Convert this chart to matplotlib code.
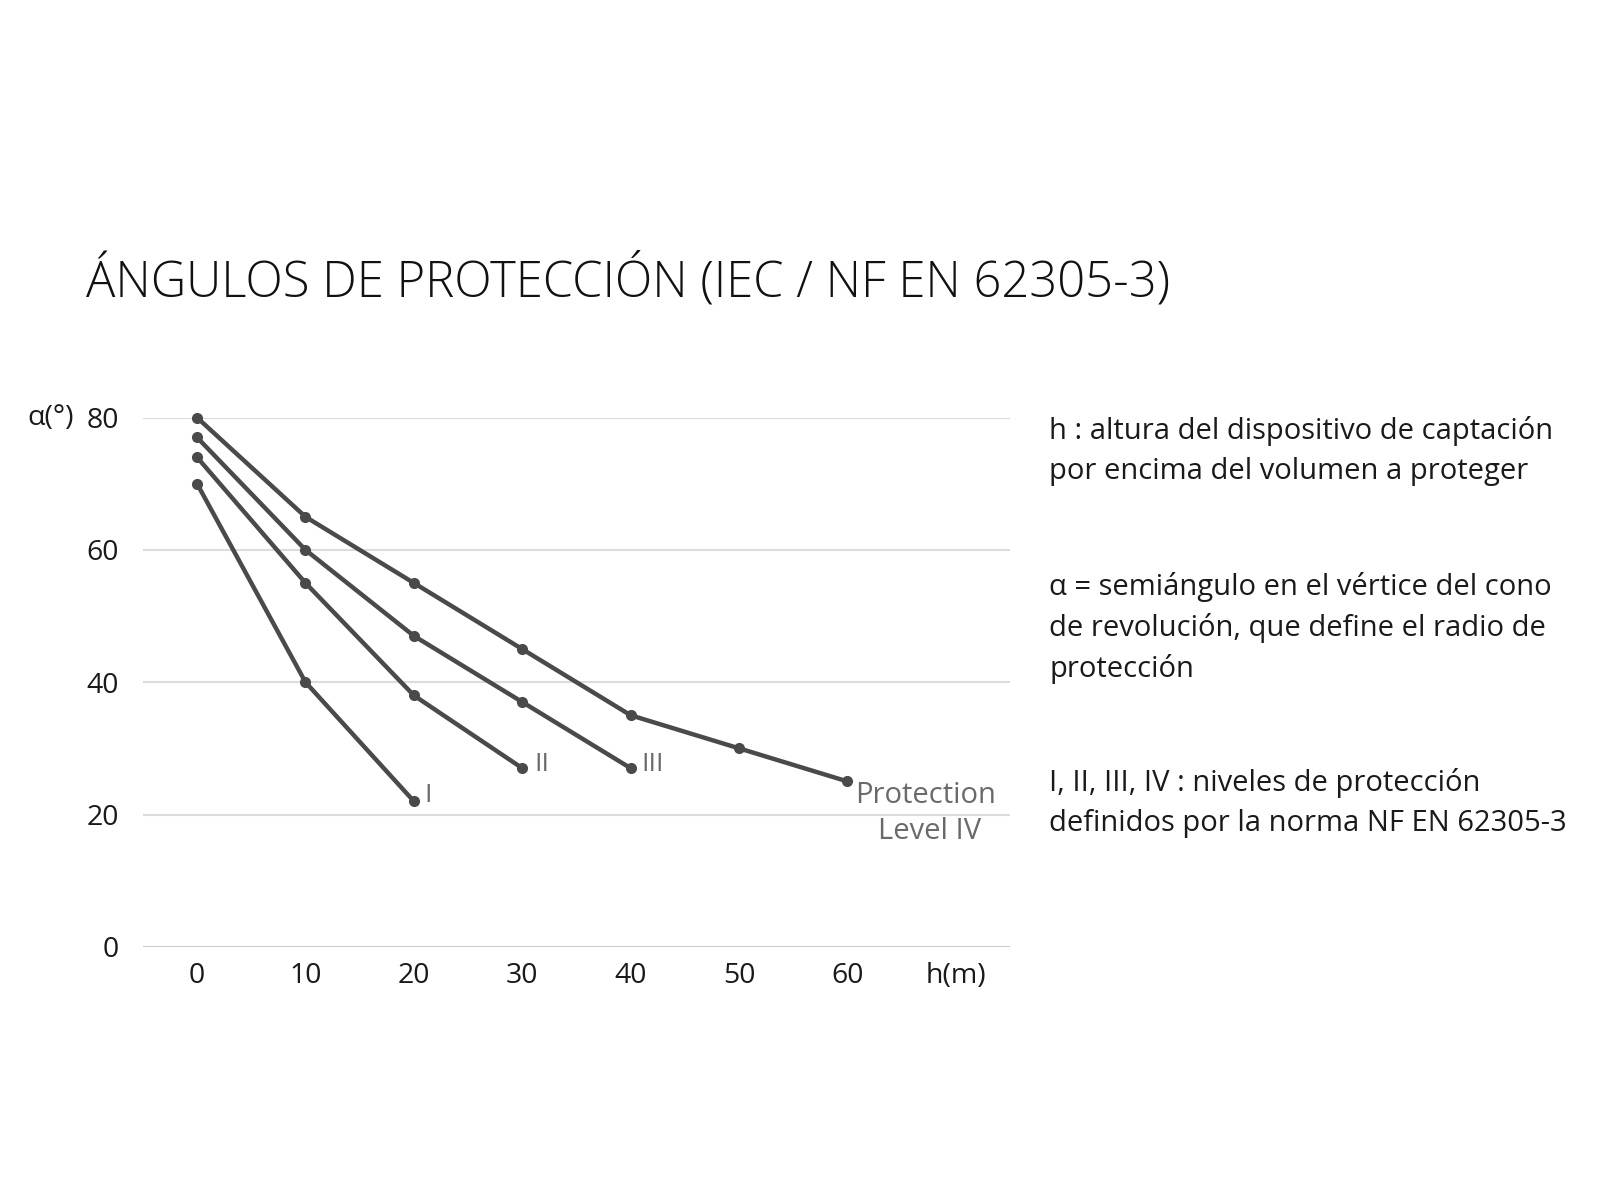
import matplotlib
matplotlib.use('Agg')
from matplotlib import pyplot as plt

# protection angle alpha (deg) vs height h (m), per protection level
h_I = [0, 10, 20]
alpha_I = [70, 40, 22]
h_II = [0, 10, 20, 30]
alpha_II = [74, 55, 38, 27]
h_III = [0, 10, 20, 30, 40]
alpha_III = [77, 60, 47, 37, 27]
h_IV = [0, 10, 20, 30, 40, 50, 60]
alpha_IV = [80, 65, 55, 45, 35, 30, 25]

x_ticks = [0, 10, 20, 30, 40, 50, 60, 70]
x_labels = ['0', '10', '20', '30', '40', '50', '60', 'h(m)']
y_ticks = [0, 20, 40, 60, 80]

TITLE = 'ÁNGULOS DE PROTECCIÓN (IEC / NF EN 62305-3)'
NOTES = [
    'h : altura del dispositivo de captación\npor encima del volumen a proteger',
    'α = semiángulo en el vértice del cono\nde revolución, que define el radio de\nprotección',
    'I, II, III, IV : niveles de protección\ndefinidos por la norma NF EN 62305-3',
]

plt.rcParams['font.family'] = ['Open Sans', 'DejaVu Sans']

LINE = '#4a4a4a'
LABEL = '#6a6a6a'
TEXT = '#1a1a1a'

fig = plt.figure(figsize=(16, 12), dpi=100)
ax = fig.add_axes([0.0893, 0.211, 0.542, 0.441])

for hs, al in [(h_I, alpha_I), (h_II, alpha_II), (h_III, alpha_III), (h_IV, alpha_IV)]:
    ax.plot(hs, al, '-', color=LINE, linewidth=3.2, marker='o', markersize=7,
            solid_capstyle='round', zorder=3, clip_on=False)

ax.set_xlim(-5, 75)
ax.set_ylim(0, 80)
ax.set_xticks(x_ticks)
ax.set_xticklabels(x_labels)
ax.set_yticks(y_ticks)
ax.grid(axis='y', color='#dcdcdc', linewidth=1.5)
ax.axhline(0, color='#c4c4c4', linewidth=1.8, zorder=2)
for s in ax.spines.values():
    s.set_visible(False)
ax.tick_params(length=0, labelsize=20.5, labelcolor=TEXT)
ax.tick_params(axis='y', pad=17)
ax.tick_params(axis='x', pad=11)

# y-axis unit next to the top tick
ax.annotate('α(°)', xy=(0, 80), xycoords=('axes fraction', 'data'),
            xytext=(-50, 0), textcoords='offset points',
            ha='right', va='center', fontsize=20.5, color=TEXT)

# level labels at the end of each curve
ax.annotate('I', xy=(h_I[-1], alpha_I[-1]), xytext=(10, 4), textcoords='offset points',
            ha='center', va='center', fontsize=19, color=LABEL)
ax.annotate('II', xy=(h_II[-1], alpha_II[-1]), xytext=(14, 3), textcoords='offset points',
            ha='center', va='center', fontsize=19, color=LABEL)
ax.annotate('III', xy=(h_III[-1], alpha_III[-1]), xytext=(16, 3), textcoords='offset points',
            ha='center', va='center', fontsize=19, color=LABEL)
ax.annotate('Protection', xy=(h_IV[-1], alpha_IV[-1]), xytext=(56, -10),
            textcoords='offset points', ha='center', va='center', fontsize=21, color=LABEL)
ax.annotate('Level IV', xy=(h_IV[-1], alpha_IV[-1]), xytext=(59, -36),
            textcoords='offset points', ha='center', va='center', fontsize=21, color=LABEL)

fig.text(0.054, 1 - 281 / 1200, TITLE, ha='left', va='center', fontsize=35.2,
         fontweight='light', color='#111111')

note_y = [416, 572, 768]
for txt, yy in zip(NOTES, note_y):
    fig.text(1049 / 1600, 1 - yy / 1200, txt, ha='left', va='top', fontsize=21,
             color=TEXT, linespacing=1.48)

fig.savefig('out.png', dpi=100, facecolor='white')
